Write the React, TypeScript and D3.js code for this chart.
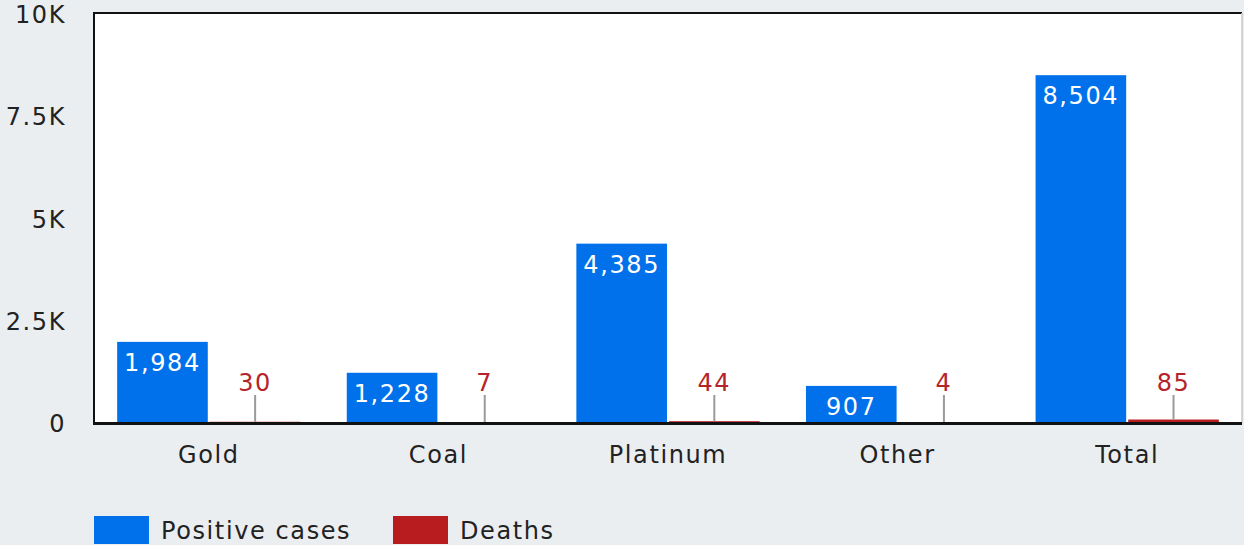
import React from "react";
import * as d3 from "d3";

const categories = ["Gold", "Coal", "Platinum", "Other", "Total"];
const positiveCases = [1984, 1228, 4385, 907, 8504];
const deaths = [30, 7, 44, 4, 85];
const yTicks = [0, 2500, 5000, 7500, 10000];
const yTickLabels = ["0", "2.5K", "5K", "7.5K", "10K"];
const seriesNames = ["Positive cases", "Deaths"];

const W = 1244;
const H = 545;
const left = 94;
const right = 1242;
const top = 13;
const bottom = 423;
const BLUE = "#0071eb";
const RED = "#b81c1f";
const RED_TEXT = "#b5242a";
const BG = "#ebeef1";
const FONT = "'DejaVu Sans', sans-serif";
const FS = 24;
const LS = 1.6;

export default function App() {
  const x0 = d3.scaleBand<string>().domain(categories).range([left, right]).paddingInner(0).paddingOuter(0);
  const x1 = d3.scaleBand<string>().domain(["pos", "death"]).range([0, x0.bandwidth()]).paddingInner(0.022).paddingOuter(0.25);
  const y = d3.scaleLinear().domain([0, 10000]).range([bottom, 14]);

  return (
    <svg width={W} height={H} style={{ position: "absolute", left: 0, top: 0, background: BG, fontFamily: FONT, letterSpacing: LS }}>
      <rect x={0} y={0} width={W} height={H} fill={BG} />
      <rect x={left} y={top} width={right - left} height={bottom - top} fill="#fff" />
      <line x1={left} x2={right} y1={top} y2={top} stroke="#111" strokeWidth={2} />
      <line x1={right} x2={right} y1={top} y2={bottom} stroke="#c8c8c8" strokeWidth={1.5} />
      <line x1={left} x2={left} y1={top - 1} y2={bottom} stroke="#111" strokeWidth={2} />

      {yTicks.map((t, i) => (
        <text key={t} x={66} y={y(t) + 9} textAnchor="end" fontSize={FS} fill="#222">
          {yTickLabels[i]}
        </text>
      ))}

      {categories.map((c, i) => {
        const bx = x0(c)!;
        const px = bx + x1("pos")!;
        const dx = bx + x1("death")!;
        const bw = x1.bandwidth();
        const py = y(positiveCases[i]);
        const dy = y(deaths[i]);
        return (
          <g key={c}>
            <rect x={px} y={py} width={bw} height={bottom - py} fill={BLUE} />
            <rect x={dx} y={dy} width={bw} height={bottom - dy} fill={RED} />
            <text x={px + bw / 2} y={py + 29} textAnchor="middle" fontSize={FS} fill="#fff">
              {d3.format(",")(positiveCases[i])}
            </text>
            <line x1={dx + bw / 2} x2={dx + bw / 2} y1={395} y2={dy} stroke="#9a9a9a" strokeWidth={2} />
            <text x={dx + bw / 2} y={391} textAnchor="middle" fontSize={FS} fill={RED_TEXT}>
              {d3.format(",")(deaths[i])}
            </text>
            <text x={bx + x0.bandwidth() / 2} y={463} textAnchor="middle" fontSize={FS} fill="#222">
              {c}
            </text>
          </g>
        );
      })}

      <line x1={left - 1} x2={right} y1={bottom + 0.5} y2={bottom + 0.5} stroke="#111" strokeWidth={3} />

      <rect x={94} y={516} width={55} height={28} fill={BLUE} />
      <text x={161} y={539} fontSize={FS} fill="#222">{seriesNames[0]}</text>
      <rect x={393} y={516} width={55} height={28} fill={RED} />
      <text x={460} y={539} fontSize={FS} fill="#222">{seriesNames[1]}</text>
    </svg>
  );
}
